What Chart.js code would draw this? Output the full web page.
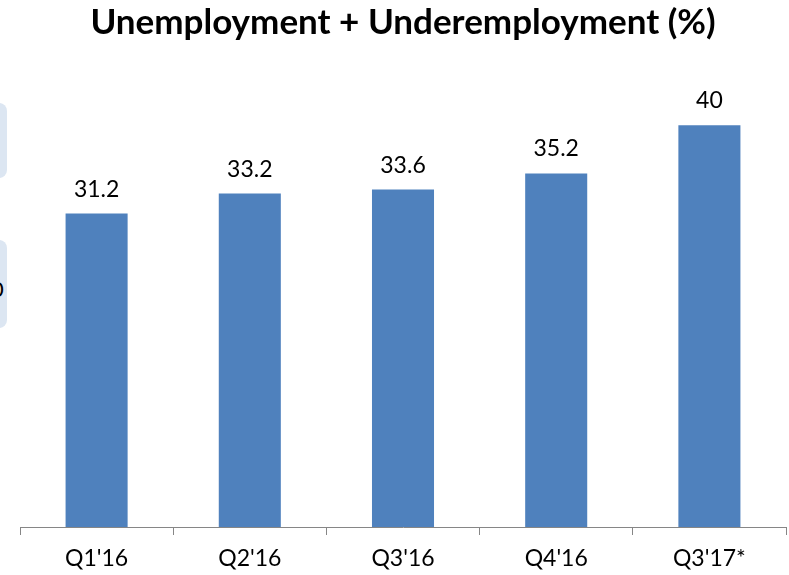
<!DOCTYPE html>
<html>
<head>
<meta charset="utf-8">
<script src="https://cdn.jsdelivr.net/npm/chart.js@4"></script>
<style>
  html, body { margin: 0; padding: 0; background: #fff; }
  #wrap { position: relative; width: 789px; height: 575px; overflow: hidden; }
  .edge { position: absolute; left: -14px; width: 21px; background: #dce6f2; border-radius: 8px; }
  .edgeText { position: absolute; left: -9px; top: 275px; font: 22px Lato, sans-serif; color: #000; }
</style>
</head>
<body>
<div id="wrap">
  <canvas id="chart" width="789" height="575"></canvas>
  <div class="edge" style="top:103px;height:75px"></div>
  <div class="edge" style="top:240px;height:88px"></div>
  <div class="edgeText">0</div>
</div>
<script>
const quarters = ["Q1'16", "Q2'16", "Q3'16", "Q4'16", "Q3'17*"];
const rates = [31.2, 33.2, 33.6, 35.2, 40];

// values above each bar
const barLabels = {
  id: 'barLabels',
  afterDatasetsDraw(chart) {
    const ctx = chart.ctx;
    const meta = chart.getDatasetMeta(0);
    ctx.save();
    ctx.font = '23px Lato, sans-serif';
    ctx.fillStyle = '#000';
    ctx.textAlign = 'center';
    ctx.textBaseline = 'alphabetic';
    meta.data.forEach((bar, i) => {
      ctx.fillText(String(rates[i]), bar.x, bar.y - 17);
    });
    ctx.restore();
  }
};

new Chart(document.getElementById('chart').getContext('2d'), {
  type: 'bar',
  data: {
    labels: quarters,
    datasets: [{
      data: rates,
      backgroundColor: '#4f81bd',
      categoryPercentage: 1,
      barPercentage: 0.405
    }]
  },
  options: {
    responsive: false,
    animation: false,
    layout: { padding: { left: 20, right: 3, top: 0, bottom: 0 } },
    plugins: {
      legend: { display: false },
      tooltip: { enabled: false },
      title: {
        display: true,
        text: 'Unemployment + Underemployment (%)',
        color: '#000',
        font: { family: 'Lato, sans-serif', size: 35, weight: 'bold' },
        padding: { top: 2, bottom: 31 }
      }
    },
    scales: {
      x: {
        afterFit(scale) { scale.height = 48; },
        grid: { offset: true, drawOnChartArea: false, drawTicks: true, tickLength: 8, color: '#868686' },
        border: { color: '#868686' },
        ticks: { color: '#000', padding: 10, font: { family: 'Lato, sans-serif', size: 23 } }
      },
      y: {
        display: false,
        min: 0,
        max: 45
      }
    }
  },
  plugins: [barLabels]
});
</script>
</body>
</html>
